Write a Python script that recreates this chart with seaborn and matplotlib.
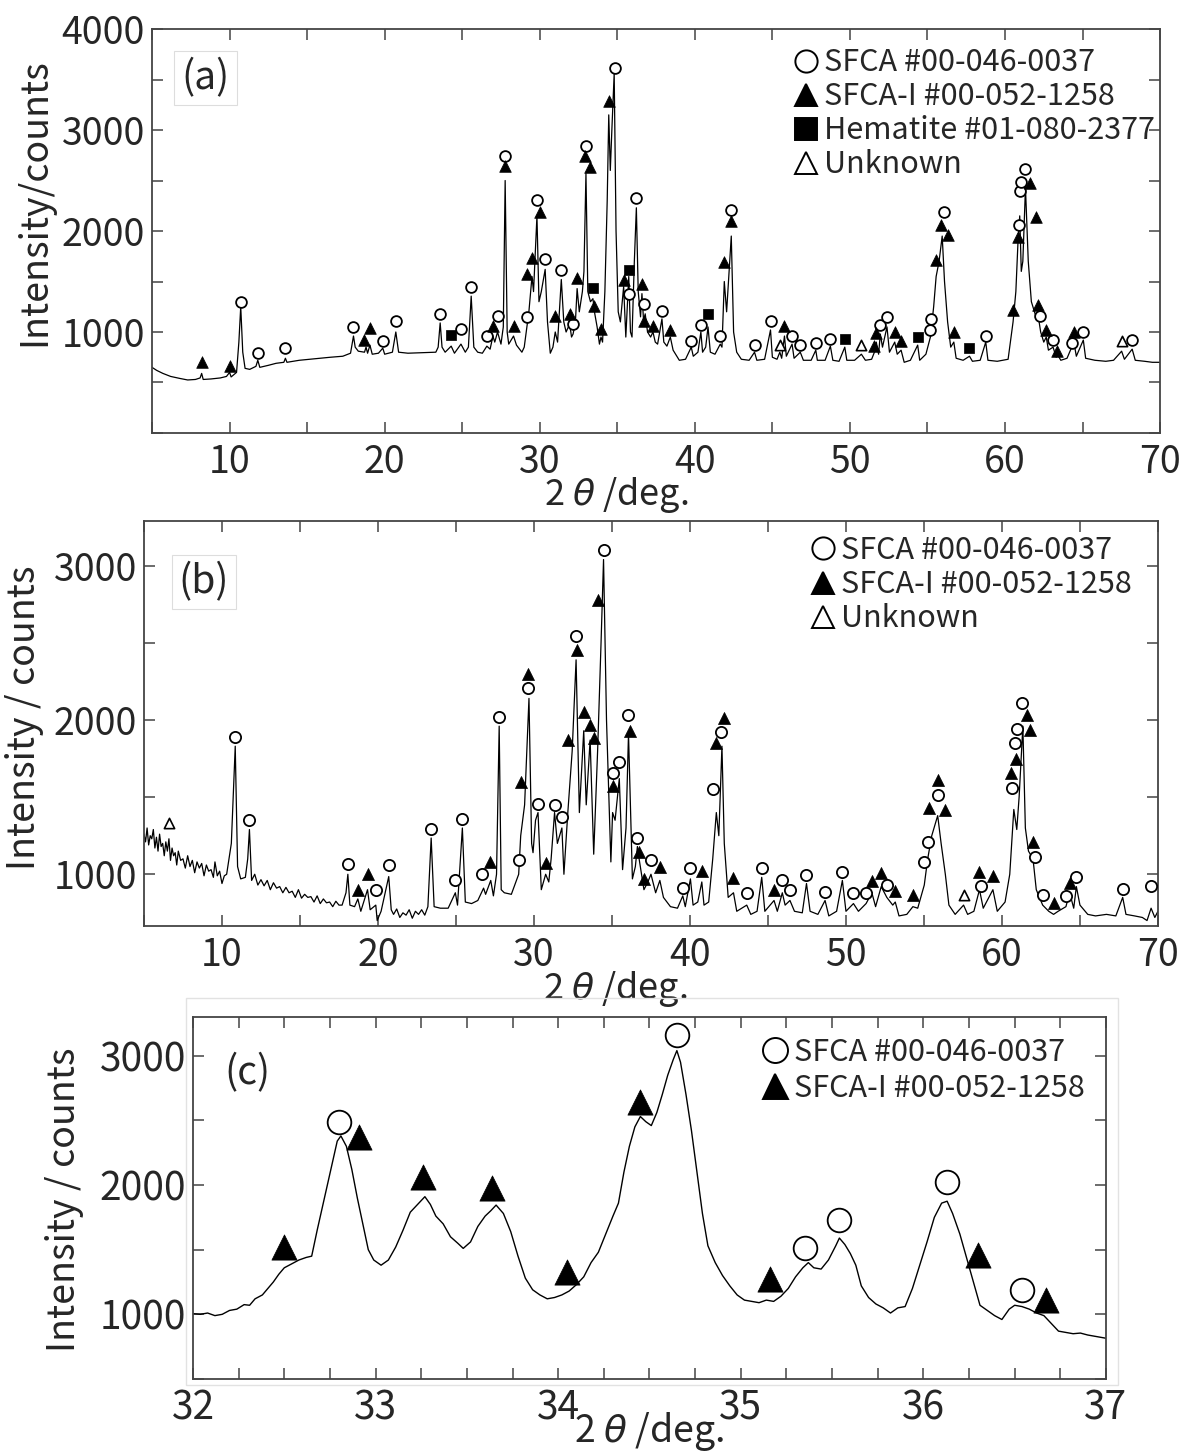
import matplotlib
matplotlib.use("Agg")
import matplotlib.pyplot as plt
import seaborn as sns
from matplotlib.lines import Line2D
from matplotlib.patches import Rectangle
from matplotlib.ticker import MultipleLocator, FixedLocator

# === data ===
# (a) pattern
tt_a = [5.0, 5.3, 5.7, 6.2, 6.8, 7.3, 7.8, 8.1, 8.2, 8.3, 8.8, 9.4, 9.8, 10.0, 10.1, 10.45, 10.6, 10.72, 10.85,
        11.0, 11.3, 11.7, 11.82, 11.95, 12.5, 13.0, 13.5, 13.6, 13.7, 14.5, 15.5, 16.5, 17.3, 17.8, 17.99, 18.1,
        18.3, 18.7, 18.8, 18.9, 19.05, 19.2, 19.6, 19.88, 20.0, 20.5, 20.72, 20.9, 21.5, 22.5, 23.3, 23.45, 23.58,
        23.7, 23.9, 24.29, 24.5, 24.92, 25.2, 25.4, 25.58, 25.75, 26.0, 26.3, 26.59, 26.8, 26.98, 27.1, 27.28,
        27.5, 27.65, 27.77, 27.9, 28.0, 28.31, 28.5, 28.85, 29.0, 29.17, 29.3, 29.5, 29.6, 29.82, 29.95, 30.1,
        30.35, 30.5, 30.68, 30.85, 31.0, 31.15, 31.39, 31.55, 31.7, 31.93, 32.05, 32.15, 32.3, 32.41, 32.55,
        32.75, 32.85, 32.98, 33.1, 33.27, 33.43, 33.55, 33.7, 33.85, 33.95, 34.05, 34.2, 34.35, 34.45, 34.55,
        34.65, 34.8, 34.92, 35.06, 35.2, 35.41, 35.55, 35.74, 35.85, 35.95, 36.1, 36.23, 36.35, 36.5, 36.59,
        36.7, 36.8, 36.95, 37.15, 37.3, 37.45, 37.6, 37.88, 38.0, 38.2, 38.42, 38.6, 39.0, 39.4, 39.77, 39.9,
        40.2, 40.39, 40.5, 40.7, 40.85, 41.0, 41.3, 41.64, 41.75, 41.9, 42.05, 42.35, 42.5, 42.7, 43.0, 43.5,
        43.85, 44.0, 44.5, 44.88, 45.0, 45.3, 45.48, 45.6, 45.78, 45.9, 46.27, 46.4, 46.8, 47.0, 47.5, 47.8,
        47.9, 48.4, 48.74, 48.9, 49.3, 49.67, 49.8, 50.3, 50.74, 51.0, 51.4, 51.58, 51.7, 51.85, 51.96, 52.1,
        52.39, 52.55, 52.89, 53.05, 53.3, 53.5, 53.9, 54.37, 54.5, 54.9, 55.19, 55.4, 55.56, 55.75, 55.95, 56.1,
        56.3, 56.5, 56.7, 56.85, 57.3, 57.71, 57.9, 58.4, 58.76, 58.9, 59.5, 60.2, 60.52, 60.7, 60.84, 60.95,
        61.05, 61.15, 61.32, 61.5, 61.7, 62.0, 62.12, 62.3, 62.5, 62.66, 62.8, 63.1, 63.3, 63.37, 63.6, 64.0,
        64.3, 64.44, 64.6, 65.05, 65.2, 65.8, 66.5, 67.0, 67.52, 67.7, 68.2, 68.4, 69.0, 69.5, 70.0]
int_a = [650, 620, 590, 560, 540, 525, 530, 545, 590, 530, 535, 545, 560, 600, 555, 600, 900, 1250, 800,
         640, 630, 660, 720, 650, 670, 690, 700, 740, 700, 720, 735, 750, 760, 790, 960, 850,
         810, 800, 850, 790, 870, 780, 790, 840, 780, 800, 1000, 800, 790, 795, 800, 850, 1090,
         850, 800, 860, 790, 880, 800, 850, 1355, 850, 800, 790, 860, 830, 960, 900, 1000,
         880, 1050, 2500, 1000, 880, 960, 870, 800, 850, 1050, 1200, 1550, 1400, 2150, 1300, 1400,
         1620, 1100, 790, 850, 1000, 900, 1520, 1100, 1000, 1080, 950, 980, 1100, 1430, 1200,
         1400, 1600, 2570, 1400, 1300, 1330, 1180, 1050, 880, 950, 900, 1400, 2300, 3150, 2600,
         3000, 3560, 2000, 1200, 1100, 1450, 950, 1550, 1000, 950, 1700, 2230, 1400, 1150, 1380,
         1100, 1180, 1000, 950, 1000, 900, 880, 1130, 900, 860, 950, 820, 720, 730, 850, 760,
         800, 1000, 800, 850, 1050, 800, 780, 880, 850, 1500, 1200, 1950, 1000, 800, 730, 720,
         800, 720, 730, 1020, 750, 730, 800, 740, 960, 760, 880, 740, 800, 720, 720, 820,
         720, 720, 860, 720, 710, 850, 720, 720, 780, 720, 730, 800, 900, 780, 980, 850,
         1050, 800, 900, 780, 820, 700, 720, 870, 720, 780, 950, 1250, 1550, 1700, 1950, 1500,
         1100, 850, 900, 740, 720, 760, 710, 720, 900, 720, 710, 730, 1100, 1400, 1900, 2150,
         1600, 1700, 2430, 1700, 1300, 1150, 1180, 1000, 900, 950, 820, 850, 750, 780, 720, 740,
         850, 900, 760, 920, 740, 720, 710, 720, 810, 730, 830, 720, 710, 700, 700]

# (a) phase markers
sfca_a_x = [10.72, 11.82, 13.58, 17.99, 19.88, 20.72, 23.58, 24.92, 25.58, 26.59, 27.28, 27.77, 29.17, 29.82,
            30.35, 31.39, 32.15, 32.98, 34.83, 35.78, 36.23, 36.74, 37.88, 39.77, 40.39, 41.64, 42.35, 43.85,
            44.88, 46.27, 46.8, 47.8, 48.74, 51.96, 52.39, 55.19, 55.23, 56.06, 58.76, 60.89, 60.95, 61.06,
            61.32, 62.25, 63.1, 64.3, 65.05, 68.2]
sfca_a_y = [1293, 792, 838, 1049, 907, 1105, 1178, 1033, 1445, 957, 1155, 2746, 1148, 2303,
            1726, 1610, 1082, 2845, 3614, 1379, 2323, 1280, 1204, 907, 1072, 957, 2204, 874,
            1105, 957, 874, 891, 934, 1073, 1149, 1023, 1129, 2184, 963, 2063, 2393, 2482,
            2614, 1155, 924, 891, 996, 924]
sfcai_a_x = [8.2, 10.0, 18.7, 19.05, 26.98, 27.77, 28.31, 29.21, 29.5, 30.03, 31.0, 31.93, 32.41, 32.9,
             33.27, 33.52, 33.95, 34.44, 35.41, 36.59, 36.74, 37.3, 38.42, 41.9, 42.35, 45.78, 51.58, 51.7,
             52.89, 53.3, 55.56, 55.89, 56.32, 56.7, 60.52, 60.84, 61.6, 62.0, 62.12, 62.66, 63.37, 64.44]
sfcai_a_y = [699, 660, 924, 1039, 1056, 2640, 1061, 1577, 1733, 2190, 1155, 1181, 1535, 2739,
             2634, 1261, 1030, 3290, 1518, 1475, 1106, 1056, 1023, 1689, 2095, 1061, 858, 990,
             996, 907, 1716, 2063, 1964, 996, 1214, 1937, 2475, 2135, 1264, 1023, 808, 996]
hem_a_x = [24.29, 33.43, 35.74, 40.85, 49.67, 54.37, 57.71]
hem_a_y = [967, 1436, 1617, 1178, 934, 947, 841]
unk_a_x = [45.48, 50.74, 67.52]
unk_a_y = [874, 868, 914]

# (b) pattern
tt_b = [5.0, 5.1, 5.2, 5.3, 5.4, 5.5, 5.6, 5.7, 5.8, 5.9, 6.0, 6.1, 6.2, 6.3, 6.4, 6.5, 6.6, 6.7, 6.8, 6.9,
        7.0, 7.1, 7.2, 7.35, 7.5, 7.65, 7.8, 7.95, 8.1, 8.25, 8.4, 8.55, 8.7, 8.85, 9.0, 9.15, 9.3, 9.45,
        9.55, 9.7, 9.85, 10.0, 10.15, 10.3, 10.6, 10.85, 11.0,
        11.2, 11.5, 11.65, 11.76, 11.9, 12.1, 12.3, 12.5, 12.7, 12.9, 13.1, 13.3, 13.5, 13.7, 13.9, 14.1,
        14.3, 14.5, 14.7, 14.9, 15.1, 15.3, 15.5, 15.7, 15.9, 16.1, 16.3, 16.5, 16.7, 16.9, 17.1, 17.3,
        17.5, 17.7, 17.95, 18.07,
        18.2, 18.5, 18.71, 18.9, 19.33, 19.5, 19.86, 19.95, 20.2, 20.69, 20.85, 21.0, 21.2, 21.4, 21.6,
        21.8, 22.0, 22.2, 22.4, 22.6, 22.8, 23.0, 23.2, 23.41,
        23.6, 24.0, 24.5, 24.96, 25.1, 25.41, 25.6, 26.0, 26.4, 26.77, 26.9, 27.23, 27.4, 27.6, 27.77, 27.9,
        28.1, 28.55, 29.02, 29.15, 29.4, 29.68, 29.85, 29.94, 30.1, 30.26, 30.47, 30.75, 30.95, 31.1, 31.32,
        31.5, 31.79, 31.92, 32.17, 32.45, 32.7, 32.91, 33.19, 33.35, 33.6, 33.83, 34.08, 34.3, 34.46, 34.65,
        34.93, 35.04, 35.2, 35.47, 35.68, 35.9, 36.06, 36.31, 36.5, 36.63, 36.74, 37.05, 37.3, 37.5, 37.8,
        38.07, 38.3, 38.75, 39.2, 39.54, 39.7, 40.03, 40.2, 40.5, 40.76, 40.9, 41.2, 41.46, 41.69, 41.85,
        42.05, 42.2, 42.45, 42.79, 43.0, 43.64, 43.9, 44.3, 44.6, 44.8, 45.39, 45.6, 45.92, 46.1, 46.41,
        46.7, 47.2, 47.47, 47.7, 48.2, 48.66, 48.9, 49.4, 49.77, 50.0, 50.48, 50.8, 51.29, 51.66, 51.9,
        52.26, 52.62, 53.0, 53.16, 53.4, 53.9, 54.29, 54.6, 55.02, 55.24, 55.5, 55.88, 56.1, 56.37, 56.6,
        57.0, 57.54, 57.8, 58.2, 58.56, 58.8, 59.42, 59.7, 60.2, 60.5, 60.76, 60.95, 61.1, 61.34, 61.5,
        61.7, 61.99, 62.2, 62.61, 63.0, 63.31, 63.6, 64.1, 64.34, 64.6, 64.77, 65.0, 65.5, 66.0, 66.7,
        67.3, 67.74, 67.95, 68.5, 69.0, 69.3, 69.56, 69.8, 70.0]
int_b = [1260, 1210, 1300, 1190, 1250, 1230, 1290, 1170, 1240, 1150, 1260, 1180, 1200, 1120, 1210, 1150, 1230, 1090, 1170, 1120,
         1140, 1060, 1150, 1090, 1100, 1040, 1120, 1050, 1090, 1010, 1080, 1040, 1070, 990, 1060, 1020, 1030, 980,
         1080, 990, 1020, 940, 990, 1000, 1200, 1830, 1050,
         970, 980, 1100, 1290, 960, 1000, 930, 965, 925, 960, 900, 945, 910, 920, 880, 915,
         880, 890, 850, 900, 845, 870, 850, 855, 820, 860, 810, 840, 815, 820, 790, 825,
         800, 800, 880, 1000,
         800, 790, 840, 760, 900, 770, 800, 700, 760, 985, 770, 740, 775, 720, 750,
         735, 770, 715, 760, 740, 770, 735, 790, 1235,
         790, 780, 780, 880, 800, 1300, 820, 810, 830, 910, 870, 960, 860, 1000, 1960, 900,
         880, 870, 1000, 1250, 1450, 2140, 1200, 1140, 1350, 1400, 900, 1000, 950, 1100, 1400,
         1200, 1300, 1000, 1400, 1800, 2390, 1400, 1930, 1450, 1870, 1130, 1800, 2500, 3040, 2000,
         1080, 1400, 1350, 1620, 1030, 1300, 1910, 970, 1050, 1180, 1100, 900, 950, 1000, 880,
         960, 850, 790, 780, 860, 790, 970, 800, 820, 950, 800, 820, 1100, 1400, 1250,
         1830, 1200, 850, 880, 760, 800, 740, 760, 980, 760, 830, 760, 880, 800, 830,
         760, 750, 940, 760, 740, 830, 730, 760, 960, 760, 810, 760, 810, 880, 790,
         920, 850, 800, 820, 730, 740, 790, 780, 930, 1100, 1250, 1380, 1200, 1000, 800,
         740, 800, 740, 760, 900, 780, 900, 760, 820, 1000, 1420, 1290, 1500, 1960, 1300,
         1150, 1100, 900, 800, 760, 740, 760, 790, 880, 780, 920, 800, 740, 730, 740,
         730, 850, 740, 730, 720, 700, 780, 720, 760]

# (b) phase markers
sfca_b_x = [10.85, 11.76, 18.07, 19.86, 20.69, 23.41, 24.96, 25.41, 26.7, 27.77, 29.02, 29.62, 30.26, 31.32,
            31.79, 32.7, 34.46, 35.04, 35.47, 36.06, 36.63, 37.5, 39.54, 40.03, 41.46, 42.01, 43.64, 44.6,
            45.92, 46.41, 47.47, 48.66, 49.77, 50.48, 51.29, 52.62, 55.02, 55.24, 55.88, 58.65, 60.64, 60.86,
            60.96, 61.28, 62.09, 62.61, 64.1, 64.77, 67.74, 69.56]
sfca_b_y = [1887, 1352, 1064, 895, 1057, 1291, 963, 1356, 1001, 2017, 1093, 2205, 1456, 1447,
            1369, 2544, 3102, 1654, 1730, 2030, 1233, 1093, 909, 1039, 1554, 1924, 880, 1041,
            966, 901, 998, 882, 1014, 880, 876, 931, 1081, 1211, 1514, 926, 1562, 1849,
            1942, 2113, 1114, 868, 862, 983, 905, 923]
sfcai_b_x = [18.71, 19.33, 27.2, 29.15, 29.62, 30.75, 32.17, 32.74, 33.19, 33.6, 33.87, 34.08, 35.04, 36.14,
             36.74, 37.05, 38.07, 40.76, 41.69, 42.16, 42.79, 45.39, 51.66, 52.26, 53.16, 54.29, 55.3, 55.88,
             56.37, 58.56, 59.42, 60.6, 60.9, 61.6, 61.81, 61.99, 63.31, 64.34]
sfcai_b_y = [895, 1003, 1081, 1600, 2296, 1075, 1870, 2453, 2052, 1965, 1885, 2778, 1571, 1928,
             1147, 967, 1050, 1024, 1849, 2010, 973, 901, 956, 1010, 892, 864, 1427, 1611,
             1416, 1014, 990, 1659, 1746, 2033, 1936, 1211, 814, 944]
unk_b_x = [6.61, 57.54]
unk_b_y = [1330, 868]

# (c) zoomed pattern 32-37 deg
tt_c = [32.00, 32.04, 32.08, 32.12, 32.16, 32.20, 32.24, 32.28, 32.31, 32.34, 32.38, 32.41, 32.44, 32.47, 32.50,
        32.54, 32.58, 32.62, 32.65, 32.68, 32.72, 32.76, 32.79, 32.81, 32.84, 32.87, 32.90, 32.93, 32.96, 32.99,
        33.03, 33.07, 33.11, 33.15, 33.19, 33.23, 33.27, 33.30, 33.33, 33.37, 33.41, 33.45, 33.48, 33.52, 33.56,
        33.60, 33.63, 33.66, 33.70, 33.74, 33.78, 33.82, 33.86, 33.90, 33.94, 33.98, 34.02, 34.06, 34.10, 34.14,
        34.18, 34.22, 34.26, 34.30, 34.33, 34.36, 34.39, 34.42, 34.45, 34.48, 34.51, 34.54, 34.57, 34.60, 34.63,
        34.65, 34.67, 34.70, 34.73, 34.76, 34.79, 34.82, 34.86, 34.90, 34.94, 34.98, 35.02, 35.06, 35.10, 35.14,
        35.18, 35.22, 35.26, 35.30, 35.34, 35.37, 35.40, 35.44, 35.48, 35.52, 35.54, 35.57, 35.60, 35.63, 35.66,
        35.70, 35.74, 35.78, 35.82, 35.86, 35.90, 35.94, 35.98, 36.02, 36.06, 36.10, 36.13, 36.16, 36.20, 36.24,
        36.28, 36.31, 36.35, 36.39, 36.43, 36.47, 36.50, 36.54, 36.58, 36.62, 36.66, 36.70, 36.74, 36.78, 36.82,
        36.86, 36.90, 36.94, 36.98, 37.00]
int_c = [1005, 1000, 1010, 990, 1000, 1030, 1040, 1075, 1070, 1120, 1150, 1200, 1250, 1310, 1360,
         1390, 1420, 1440, 1450, 1650, 1900, 2150, 2340, 2380, 2300, 2120, 1900, 1700, 1500, 1420,
         1380, 1420, 1520, 1650, 1790, 1850, 1910, 1850, 1760, 1700, 1600, 1550, 1510, 1560, 1680,
         1760, 1800, 1845, 1780, 1640, 1450, 1280, 1190, 1150, 1120, 1130, 1150, 1180, 1230, 1290,
         1400, 1480, 1620, 1760, 1860, 2100, 2300, 2450, 2530, 2490, 2460, 2560, 2700, 2850, 2970,
         3040, 2950, 2700, 2420, 2100, 1780, 1530, 1400, 1300, 1220, 1150, 1110, 1100, 1090, 1110,
         1100, 1140, 1200, 1290, 1360, 1400, 1360, 1350, 1420, 1530, 1590, 1540, 1470, 1380, 1220,
         1130, 1080, 1050, 1010, 1050, 1060, 1200, 1380, 1560, 1750, 1860, 1875, 1780, 1620, 1420,
         1220, 1070, 1030, 990, 960, 1040, 1070, 1060, 1040, 1010, 990, 930, 870, 860, 850,
         855, 840, 830, 820, 815]

sfca_c_x = [32.8, 34.65, 35.35, 35.54, 36.13, 36.54]
sfca_c_y = [2491, 3163, 1514, 1729, 2020, 1186]
sfcai_c_x = [32.5, 32.91, 33.26, 33.64, 34.05, 34.45, 35.16, 36.3, 36.67]
sfcai_c_y = [1522, 2375, 2065, 1974, 1328, 2646, 1276, 1457, 1109]

lbl_sfca = "SFCA #00-046-0037"
lbl_sfcai = "SFCA-I #00-052-1258"
lbl_hem = "Hematite #01-080-2377"
lbl_unk = "Unknown"

# === style ===
sns.set_style("ticks")
plt.rcParams["font.family"] = ["Noto Sans CJK JP", "DejaVu Sans"]
plt.rcParams["mathtext.fontset"] = "dejavusans"

STY = {
    "sfca": dict(marker="o", color="white", edgecolor="black", linewidth=1.3),
    "sfcai": dict(marker="^", color="black", edgecolor="black", linewidth=0.5),
    "hem": dict(marker="s", color="black", edgecolor="black", linewidth=0.5),
    "unk": dict(marker="^", color="white", edgecolor="black", linewidth=1.2),
}


def mark(ax, x, y, kind, s):
    sns.scatterplot(x=x, y=y, ax=ax, s=s, zorder=3, legend=False, **STY[kind])


def trace(ax, x, y, lw):
    sns.lineplot(x=x, y=y, ax=ax, color="black", linewidth=lw, sort=False, estimator=None, zorder=2)


def style_axis(ax, fs, xpad):
    ax.tick_params(which="both", direction="in", top=True, right=True, length=8, width=1.1,
                   color="#444444", labelsize=fs)
    ax.tick_params(axis="x", which="both", pad=xpad)
    ax.tick_params(axis="y", which="both", pad=5)
    for sp in ax.spines.values():
        sp.set_linewidth(1.3)
        sp.set_color("#444444")


def add_legend(ax, kinds, labels, ms, x, y, fs, spacing, hl):
    handles = []
    for k, lab in zip(kinds, labels):
        st = STY[k]
        handles.append(Line2D([], [], ls="none", marker=st["marker"], ms=ms, mfc=st["color"],
                              mec="black", mew=1.4, label=lab))
    ax.legend(handles=handles, loc="upper left", bbox_to_anchor=(x, y), frameon=False, fontsize=fs,
              handlelength=hl, handletextpad=0.22, labelspacing=spacing, borderpad=0, borderaxespad=0)


fig = plt.figure(figsize=(11.84, 14.52), dpi=100)

# --- (a) ---
ax_a = fig.add_axes([0.1284, 0.7018, 0.8514, 0.2782])
trace(ax_a, tt_a, int_a, 0.9)
mark(ax_a, sfca_a_x, sfca_a_y, "sfca", 60)
mark(ax_a, sfcai_a_x, sfcai_a_y, "sfcai", 70)
mark(ax_a, hem_a_x, hem_a_y, "hem", 60)
mark(ax_a, unk_a_x, unk_a_y, "unk", 55)
ax_a.set_xlim(5, 70)
ax_a.set_ylim(0, 4000)
ax_a.xaxis.set_major_locator(MultipleLocator(10))
ax_a.xaxis.set_minor_locator(MultipleLocator(5))
ax_a.yaxis.set_major_locator(FixedLocator([1000, 2000, 3000, 4000]))
ax_a.yaxis.set_minor_locator(MultipleLocator(500))
style_axis(ax_a, 27, 7)
ax_a.set_xlabel(r"2 $\theta$ /deg.", fontsize=26)
ax_a.set_ylabel("Intensity/counts", fontsize=27)
ax_a.xaxis.set_label_coords(0.461, -0.153)
ax_a.yaxis.set_label_coords(-0.116, 0.572)
ax_a.xaxis.label.set_va("center")
ax_a.yaxis.label.set_va("center")
ax_a.text(0.053, 0.879, "(a)", transform=ax_a.transAxes, fontsize=28, ha="center", va="center",
          bbox=dict(boxstyle="square,pad=0.18", fc="white", ec="#dddddd", lw=0.8))
add_legend(ax_a, ["sfca", "sfcai", "hem", "unk"], [lbl_sfca, lbl_sfcai, lbl_hem, lbl_unk],
           16, 0.637, 0.955, 22, 0.1, 0.76)

# --- (b) ---
ax_b = fig.add_axes([0.1216, 0.3623, 0.8564, 0.2789])
trace(ax_b, tt_b, int_b, 0.9)
mark(ax_b, sfca_b_x, sfca_b_y, "sfca", 65)
mark(ax_b, sfcai_b_x, sfcai_b_y, "sfcai", 75)
mark(ax_b, unk_b_x, unk_b_y, "unk", 55)
ax_b.set_xlim(5, 70)
ax_b.set_ylim(665, 3290)
ax_b.xaxis.set_major_locator(MultipleLocator(10))
ax_b.xaxis.set_minor_locator(MultipleLocator(5))
ax_b.yaxis.set_major_locator(MultipleLocator(1000))
ax_b.yaxis.set_minor_locator(MultipleLocator(500))
style_axis(ax_b, 27, 7)
ax_b.set_xlabel(r"2 $\theta$ /deg.", fontsize=26)
ax_b.set_ylabel("Intensity / counts", fontsize=27)
ax_b.xaxis.set_label_coords(0.465, -0.156)
ax_b.yaxis.set_label_coords(-0.118, 0.514)
ax_b.xaxis.label.set_va("center")
ax_b.yaxis.label.set_va("center")
ax_b.text(0.059, 0.849, "(b)", transform=ax_b.transAxes, fontsize=28, ha="center", va="center",
          bbox=dict(boxstyle="square,pad=0.18", fc="white", ec="#dddddd", lw=0.8))
add_legend(ax_b, ["sfca", "sfcai", "unk"], [lbl_sfca, lbl_sfcai, lbl_unk],
           16, 0.658, 0.965, 22, 0.1, 0.76)

# --- (c) ---
fig.patches.append(Rectangle((0.157, 0.046), 0.787, 0.2665, transform=fig.transFigure,
                             fill=False, ec="#e2e2e2", lw=1.0))
ax_c = fig.add_axes([0.163, 0.0503, 0.7711, 0.2493])
trace(ax_c, tt_c, int_c, 1.0)
mark(ax_c, sfca_c_x, sfca_c_y, "sfca", 290)
mark(ax_c, sfcai_c_x, sfcai_c_y, "sfcai", 330)
ax_c.set_xlim(32, 37)
ax_c.set_ylim(500, 3300)
ax_c.xaxis.set_major_locator(MultipleLocator(1))
ax_c.xaxis.set_minor_locator(MultipleLocator(0.25))
ax_c.yaxis.set_major_locator(MultipleLocator(1000))
ax_c.yaxis.set_minor_locator(MultipleLocator(500))
style_axis(ax_c, 28, 7)
ax_c.set_xlabel(r"2 $\theta$ /deg.", fontsize=27)
ax_c.set_ylabel("Intensity / counts", fontsize=27)
ax_c.xaxis.set_label_coords(0.5, -0.146)
ax_c.yaxis.set_label_coords(-0.141, 0.494)
ax_c.xaxis.label.set_va("center")
ax_c.yaxis.label.set_va("center")
ax_c.text(0.060, 0.845, "(c)", transform=ax_c.transAxes, fontsize=28, ha="center", va="center")
add_legend(ax_c, ["sfca", "sfcai"], [lbl_sfca, lbl_sfcai], 18, 0.624, 0.945, 22, 0.16, 0.82)

fig.savefig("out.png", dpi=100, facecolor="white")
